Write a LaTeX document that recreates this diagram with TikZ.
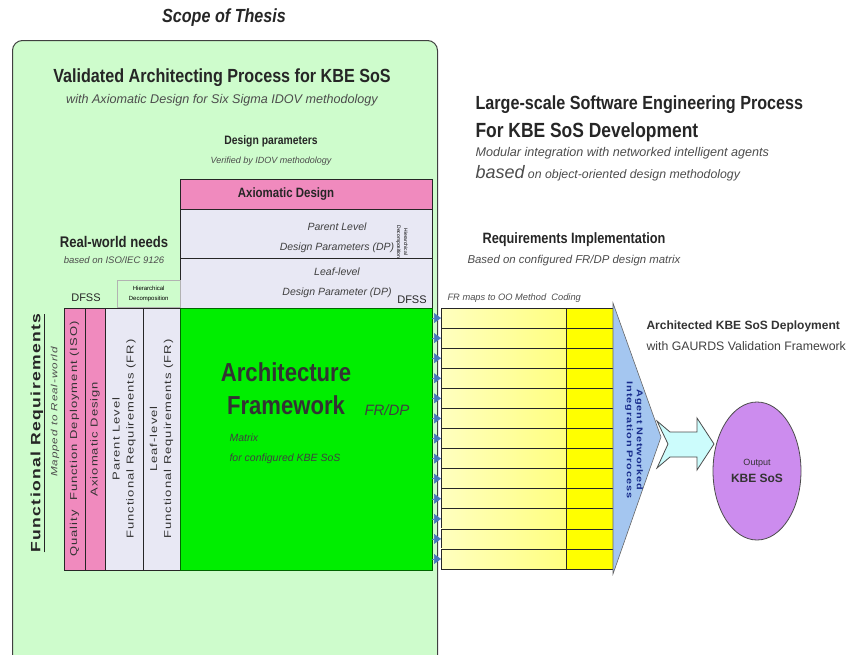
\documentclass[tikz,border=0pt]{standalone}
\usepackage{fontspec}
\setmainfont{Liberation Sans}
\newfontfamily\narrowfont[FakeStretch=0.85]{Liberation Sans}
\newfontfamily\widefont[FakeStretch=1.3,LetterSpace=10]{Liberation Sans}
\usetikzlibrary{positioning,arrows.meta,shapes.geometric}

\definecolor{scopegreen}{RGB}{206,252,204}
\definecolor{axiopink}{RGB}{240,138,190}
\definecolor{lavender}{RGB}{232,232,244}
\definecolor{fwgreen}{RGB}{0,238,0}
\definecolor{codeyellow}{RGB}{255,255,0}
\definecolor{triblue}{RGB}{164,198,240}
\definecolor{arrowcyan}{RGB}{204,252,252}
\definecolor{outpurple}{RGB}{204,140,238}
\definecolor{navy}{RGB}{24,44,140}
\definecolor{tipblue}{RGB}{70,120,190}

\begin{document}
\begin{tikzpicture}
	[x=1pt,y=-1pt,
		scope box/.style={draw=black!75,line width=1pt,fill=scopegreen,rounded corners=10pt,anchor=north west,inner sep=0pt},
		cell/.style={draw=black!85,line width=0.7pt,anchor=north west,inner sep=0pt,outer sep=0pt},
		big head/.style={font=\narrowfont\bfseries\fontsize{19}{22}\selectfont,text=black!85},
		mid head/.style={font=\narrowfont\bfseries\fontsize{13}{15}\selectfont,text=black!85},
		note/.style={font=\itshape\fontsize{9}{11}\selectfont,text=black!70},
		dp text/.style={align=center,font=\itshape\fontsize{10.5}{20}\selectfont,text=black!75},
		col text/.style={rotate=90,align=center,font=\widefont\fontsize{10}{14}\selectfont,text=black!80},
		fr arrow/.style={-{Triangle[length=7pt,width=10pt]},draw=tipblue,fill=tipblue,line width=0.5pt}]

	\useasboundingbox (0,0) rectangle (854,654);

	% scope of thesis
	\node[scope box, minimum width=425pt, minimum height=630pt] (scope) at (12,40) {};
	\node[font=\narrowfont\bfseries\itshape\fontsize{19}{22}\selectfont,text=black!85] (scopetitle) at (224,18) {Scope of Thesis};
	\node[big head] (vap) at (222,78) {Validated Architecting Process for KBE SoS};
	\node[note,font=\itshape\fontsize{12.6}{14}\selectfont] (vapsub) [below=0pt of vap] {with Axiomatic Design for Six Sigma IDOV methodology};

	% design parameters
	\node[mid head,font=\narrowfont\bfseries\fontsize{12.2}{14}\selectfont] (dpt) at (271,141) {Design parameters};
	\node[note] (dpsub) [below=3pt of dpt] {Verified by IDOV methodology};
	\node[cell,fill=axiopink,minimum width=252pt,minimum height=30pt] (axio) at (180,179) {};
	\node[font=\narrowfont\bfseries\fontsize{13.5}{15}\selectfont,text=black!85] (axiot) at (286,194) {Axiomatic Design};
	\node[cell,fill=lavender,minimum width=252pt,minimum height=49pt] (pdp) at (180,209) {};
	\node[cell,fill=lavender,minimum width=252pt,minimum height=50pt] (ldp) at (180,258) {};
	\node[dp text] (pdpt) at (337,238) {Parent Level\\Design Parameters (DP)};
	\node[dp text] (ldpt) at (337,283) {Leaf-level\\Design Parameter (DP)};
	\node[rotate=-90,align=center,font=\fontsize{5}{7}\selectfont] (dphier) at (402,242) {Hierarchical\\Decomposition};
	\node[font=\fontsize{11}{12}\selectfont,text=black!85] (dfssr) at (412,300) {DFSS};

	% real-world needs
	\node[mid head,font=\narrowfont\bfseries\fontsize{15.4}{17}\selectfont] (rwn) at (114,242) {Real-world needs};
	\node[note,font=\itshape\fontsize{9.5}{11}\selectfont] (rwnsub) [below=2pt of rwn] {based on ISO/IEC 9126};
	\node[font=\fontsize{11}{12}\selectfont,text=black!85] (dfssl) at (86,298) {DFSS};
	\node[draw=black!30,anchor=north west,minimum width=63pt,minimum height=27pt,inner sep=0pt,align=center,font=\fontsize{6}{10}\selectfont] (hier) at (117,280) {Hierarchical\\Decomposition};

	\node[cell,fill=axiopink,minimum width=21pt,minimum height=262pt] (qfd) at (64,308) {};
	\node[cell,fill=axiopink,minimum width=20pt,minimum height=262pt] (adc) at (85,308) {};
	\node[cell,fill=lavender,minimum width=38pt,minimum height=262pt] (pfr) at (105,308) {};
	\node[cell,fill=lavender,minimum width=37pt,minimum height=262pt] (lfr) at (143,308) {};
	\node[col text] at (qfd.center) {Quality\ \ Function Deployment (ISO)};
	\node[col text] at (adc.center) {Axiomatic Design};
	\node[col text] at (pfr.center) {Parent Level\\Functional Requirements (FR)};
	\node[col text] at (lfr.center) {Leaf-level\\Functional Requirements (FR)};
	\node[rotate=90,font=\widefont\bfseries\fontsize{13.5}{15}\selectfont,text=black!85] (funreq) at (38,433) {\underline{Functional Requirements}};
	\node[rotate=90,font=\widefont\itshape\fontsize{9}{11}\selectfont,text=black!70] (mapped) at (55,412) {Mapped to Real-world};

	% architecture framework
	\node[cell,fill=fwgreen,draw=green!40!black,minimum width=252pt,minimum height=262pt] (fw) at (180,308) {};
	\node[font=\narrowfont\bfseries\fontsize{26}{33}\selectfont,text=black!80,align=center] (arch) at (286,389) {Architecture\\Framework};
	\node[font=\itshape\fontsize{15}{17}\selectfont,text=black!75] (frdp) at (387,410) {FR/DP};
	\node[font=\itshape\fontsize{10.5}{20}\selectfont,text=black!75,align=left,anchor=north west] (matrix) at (226,430) {Matrix\\for configured KBE SoS};

	% software engineering process
	\node[big head,anchor=west] (lsse) at (472,105) {Large-scale Software Engineering Process};
	\node[big head,font=\narrowfont\bfseries\fontsize{20.5}{22}\selectfont,anchor=west] (kbedev) at (472,132) {For KBE SoS Development};
	\node[note,font=\itshape\fontsize{12.6}{14}\selectfont,anchor=west] (modular) at (472,153) {Modular integration with networked intelligent agents};
	\node[note,font=\itshape\fontsize{12.3}{14}\selectfont,anchor=west] (based) at (472,173) {{\fontsize{18}{20}\selectfont based} on object-oriented design methodology};

	\node[mid head,font=\narrowfont\bfseries\fontsize{15}{17}\selectfont] (reqimp) at (574,240) {Requirements Implementation};
	\node[note,font=\itshape\fontsize{11.4}{13}\selectfont] (reqsub) [below=1pt of reqimp] {Based on configured FR/DP design matrix};
	\node[note,font=\itshape\fontsize{9.3}{10}\selectfont,anchor=west] (frmaps) at (444,298) {FR maps to OO Method\ \ Coding};

	\foreach \i in {1,...,13}{
		\pgfmathsetmacro\ry{308+(\i-1)*20.08}
		\node[cell,left color=yellow!25,right color=yellow!50,minimum width=125pt,minimum height=20.08pt] (r\i) at (441,\ry) {};
		\node[cell,fill=codeyellow,minimum width=47pt,minimum height=20.08pt] (c\i) at (566,\ry) {};
		\draw[fr arrow] (fw.east |- r\i.west) -- (r\i.west);
	}

	% integration and deployment
	\coordinate (tritop) at (613,303);
	\coordinate (apex) at (661,437);
	\coordinate (tribot) at (613,574);
	\draw[draw=black!60,fill=triblue,line width=0.6pt] (tritop) -- (apex) -- (tribot) -- cycle;
	\node[rotate=-90,align=center,font=\widefont\bfseries\fontsize{8.4}{10}\selectfont,text=navy] (agent) at (634,440) {Agent Networked\\Integration Process};

	\node[font=\bfseries\fontsize{12}{15}\selectfont,text=black!80,anchor=west] (archdep) at (643,326) {Architected KBE SoS Deployment};
	\node[font=\fontsize{12.3}{14}\selectfont,text=black!75,anchor=west] (gaurds) at (643,346) {with GAURDS Validation Framework};

	\draw[draw=black!70,fill=arrowcyan,line width=0.8pt] (657,421) -- (670,432) -- (697,432) -- (697,418) -- (714,444) -- (697,470) -- (697,457) -- (670,457) -- (657,468) -- (668,444) -- cycle;
	\node[ellipse,draw=black!70,fill=outpurple,line width=0.8pt,minimum width=88pt,minimum height=138pt,align=center,font=\fontsize{9}{17}\selectfont,text=black!80] (out) at (757,471) {Output\\{\bfseries\fontsize{12}{13}\selectfont KBE SoS}};

\end{tikzpicture}
\end{document}
